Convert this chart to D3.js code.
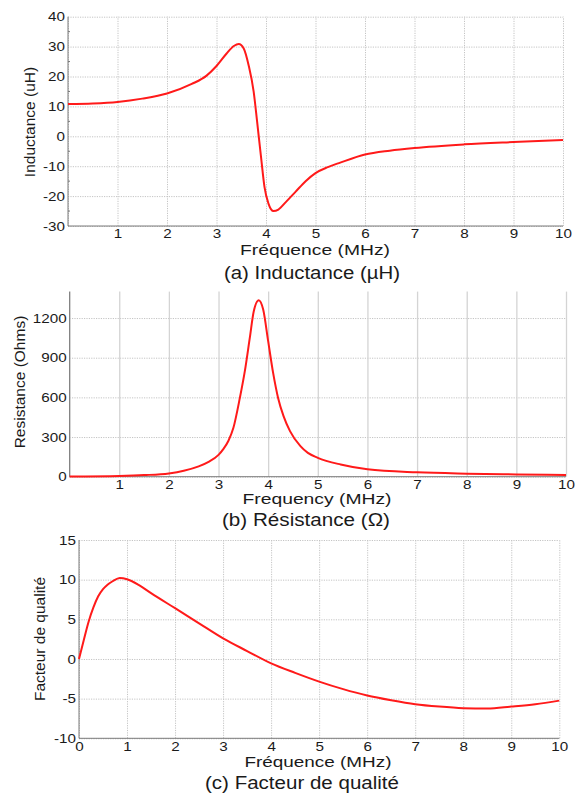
<!DOCTYPE html>
<html>
<head>
<meta charset="utf-8">
<script src="https://cdn.jsdelivr.net/npm/d3@7"></script>
<style>
  body { margin: 0; background: #fff; }
  text { font-family: "Liberation Sans", Arial, sans-serif; fill: #1a1a1a; }
  .grid line { stroke: #c4c4c4; stroke-dasharray: 1.2,1.2; }
  .grid path { display: none; }
  .vsolid line { stroke: #d4d4d4; stroke-dasharray: none; stroke-width: 1.3; }
  .axis path { stroke: #7a7a7a; }
  .axis line { stroke: #7a7a7a; }
  .curve { fill: none; stroke: #ff1a1a; stroke-width: 2; }
</style>
</head>
<body>
<script>
// (a) Inductance vs frequency
const freqA = [0, 0.5, 1, 1.5, 2, 2.5, 2.8, 3, 3.2, 3.35, 3.45, 3.55, 3.65, 3.75, 3.82, 3.9, 3.97, 4.05, 4.15, 4.25, 4.4, 4.6, 4.8, 5, 5.25, 5.5, 6, 6.5, 7, 8, 9, 10];
const inductance = [10.8, 11.0, 11.5, 12.6, 14.3, 17.5, 20.3, 23.5, 27.6, 30.2, 30.9, 29.4, 23.7, 15.0, 5.0, -7.0, -17.0, -22.5, -25.0, -24.5, -22.0, -18.5, -15.0, -12.3, -10.3, -8.8, -6.1, -4.8, -3.9, -2.7, -1.9, -1.2];

// (b) Resistance vs frequency
const freqB = [0, 1, 1.5, 2, 2.3, 2.6, 2.8, 3, 3.1, 3.2, 3.3, 3.43, 3.53, 3.63, 3.71, 3.81, 3.9, 4.0, 4.1, 4.2, 4.31, 4.44, 4.65, 4.8, 5, 5.46, 6, 7, 8, 9, 10];
const resistance = [2, 6, 12, 25, 45, 78, 112, 165, 210, 272, 370, 596, 798, 1050, 1252, 1335, 1264, 1025, 785, 596, 458, 345, 231, 180, 143, 92, 56, 33, 23, 17, 13];

// (c) Quality factor vs frequency
const freqC = [0, 0.1, 0.2, 0.3, 0.4, 0.5, 0.6, 0.7, 0.85, 1, 1.25, 1.5, 2, 2.5, 3, 3.5, 4, 4.5, 5, 5.5, 6, 6.5, 7, 7.5, 8, 8.5, 9, 9.5, 10];
const quality = [0, 2.4, 4.7, 6.5, 7.9, 8.8, 9.4, 9.8, 10.2, 10.05, 9.3, 8.3, 6.4, 4.5, 2.6, 1.0, -0.55, -1.75, -2.85, -3.8, -4.6, -5.2, -5.7, -6.0, -6.2, -6.25, -6.0, -5.7, -5.25];

// tick labels
const xTicksAB = [1, 2, 3, 4, 5, 6, 7, 8, 9, 10];
const xTicksC = [0, 1, 2, 3, 4, 5, 6, 7, 8, 9, 10];
const yTicksA = [-30, -20, -10, 0, 10, 20, 30, 40];
const yMinorA = [-25, -15, -5, 5, 15, 25, 35];
const yTicksB = [0, 300, 600, 900, 1200];
const yTicksC = [-10, -5, 0, 5, 10, 15];

const svg = d3.select("body").append("svg")
   .attr("width", 580)
   .attr("height", 794);

const STRETCH = 1.17; // text in the picture is a bit wide
const plain = d => String(d); // keep "-" and no thousands comma

function widen(sel, k) {
   sel.each(function() {
      const w = this.getComputedTextLength();
      d3.select(this).attr("textLength", w * k).attr("lengthAdjust", "spacingAndGlyphs");
   });
}

function drawPanel(p) {
   const x = d3.scaleLinear().domain([0, 10]).range([p.left, p.right]);
   const y = d3.scaleLinear().domain(p.yDomain).range([p.bottom, p.top]);
   const g = svg.append("g");

   // horizontal grid
   g.append("g")
      .attr("class", "grid")
      .attr("transform", `translate(${p.left},0)`)
      .call(d3.axisLeft(y).tickValues(p.yTicks).tickSize(-(p.right - p.left)).tickFormat(""));

   // vertical grid
   g.append("g")
      .attr("class", "grid" + (p.solidV ? " vsolid" : ""))
      .attr("transform", `translate(0,${p.bottom})`)
      .call(d3.axisBottom(x).tickValues(xTicksC).tickSize(-(p.bottom - p.top)).tickFormat(""));

   // minor ticks on left axis
   if (p.yMinor) {
      g.selectAll(".minor")
         .data(p.yMinor)
         .enter().append("line")
         .attr("x1", p.left).attr("x2", p.left + 2)
         .attr("y1", d => y(d)).attr("y2", d => y(d))
         .attr("stroke", "#7a7a7a");
   }

   // axes
   const ax = g.append("g")
      .attr("class", "axis")
      .attr("transform", `translate(0,${p.bottom})`)
      .call(d3.axisBottom(x).tickValues(p.xTicks).tickFormat(plain).tickSize(0).tickPadding(3).tickSizeOuter(0));
   ax.selectAll("text").style("font-size", "13px").attr("fill", "#1a1a1a");
   ax.select(".domain").attr("d", `M${p.left},0H${p.right}`);

   const ay = g.append("g")
      .attr("class", "axis")
      .attr("transform", `translate(${p.left},0)`)
      .call(d3.axisLeft(y).tickValues(p.yTicks).tickFormat(plain).tickSize(0).tickPadding(3).tickSizeOuter(0));
   ay.selectAll("text").style("font-size", "13px").attr("fill", "#1a1a1a");
   ay.select(".domain").attr("d", `M0,${p.top}V${p.bottom}`);

   widen(ax.selectAll("text"), STRETCH);
   widen(ay.selectAll("text"), STRETCH);

   // curve
   const line = d3.line()
      .x((d, i) => x(p.freq[i]))
      .y(d => y(d))
      .curve(d3.curveMonotoneX);
   g.append("path")
      .datum(p.values)
      .attr("class", "curve")
      .attr("d", line);

   // x label and caption
   g.append("text")
      .attr("x", p.xLabelX).attr("y", p.xLabelY)
      .attr("text-anchor", "middle")
      .style("font-size", "14px")
      .attr("textLength", p.xLabelW).attr("lengthAdjust", "spacingAndGlyphs")
      .text(p.xLabel);

   g.append("text")
      .attr("x", p.capX).attr("y", p.capY)
      .attr("text-anchor", "middle")
      .style("font-size", "17.5px")
      .attr("textLength", p.capW).attr("lengthAdjust", "spacingAndGlyphs")
      .text(p.caption);

   // y label
   g.append("text")
      .attr("transform", `translate(${p.yLabelX},${p.yLabelY}) rotate(-90)`)
      .attr("text-anchor", "middle")
      .attr("dy", "0.35em")
      .style("font-size", "15.5px")
      .text(p.yLabel);
}

drawPanel({
   freq: freqA, values: inductance,
   left: 68, right: 563, top: 16.7, bottom: 226,
   yDomain: [-30, 40], yTicks: yTicksA, yMinor: yMinorA, xTicks: xTicksAB,
   xLabel: "Fréquence (MHz)", xLabelX: 315, xLabelY: 255, xLabelW: 150,
   caption: "(a) Inductance (µH)", capX: 312, capY: 279, capW: 176,
   yLabel: "Inductance (uH)", yLabelX: 30, yLabelY: 122
});

drawPanel({
   freq: freqB, values: resistance,
   left: 69.6, right: 566, top: 291.6, bottom: 476.7,
   yDomain: [0, 1400], yTicks: yTicksB, xTicks: xTicksAB, solidV: true,
   xLabel: "Frequency (MHz)", xLabelX: 317, xLabelY: 504, xLabelW: 149,
   caption: "(b) Résistance (Ω)", capX: 306, capY: 526, capW: 168,
   yLabel: "Resistance (Ohms)", yLabelX: 19.5, yLabelY: 382
});

drawPanel({
   freq: freqC, values: quality,
   left: 79, right: 559.3, top: 540, bottom: 738.3,
   yDomain: [-10, 15], yTicks: yTicksC, xTicks: xTicksC,
   xLabel: "Fréquence (MHz)", xLabelX: 318, xLabelY: 767, xLabelW: 147,
   caption: "(c) Facteur de qualité", capX: 302, capY: 789, capW: 194,
   yLabel: "Facteur de qualité", yLabelX: 40, yLabelY: 639
});
</script>
</body>
</html>
